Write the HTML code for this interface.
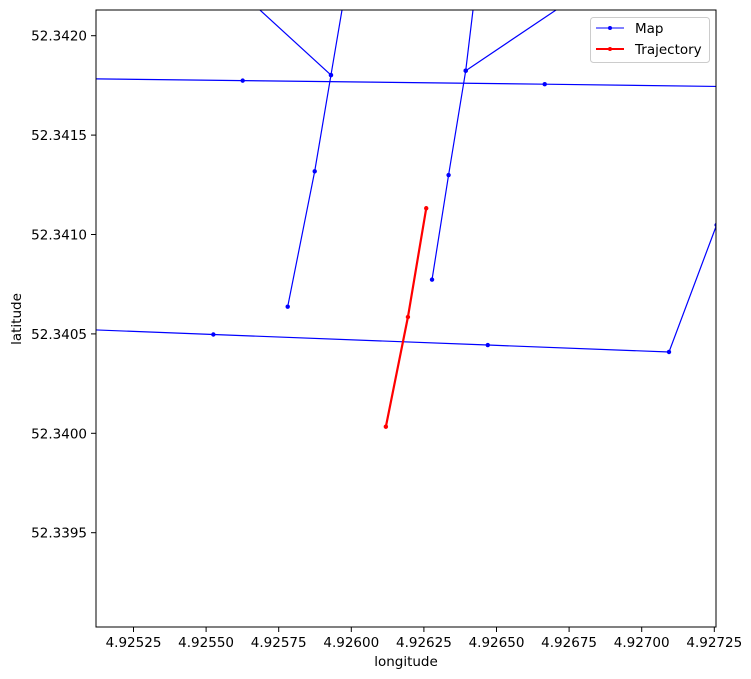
<!DOCTYPE html>
<html><head><meta charset="utf-8"><style>
html,body{margin:0;padding:0;background:#fff;}
svg{display:block;font-family:"DejaVu Sans","Liberation Sans",sans-serif;}
</style></head><body>
<svg id="chart" width="751" height="679" viewBox="0 0 751 679" xmlns="http://www.w3.org/2000/svg">
<defs><clipPath id="pc"><rect x="96" y="10" width="620" height="617"/></clipPath></defs>
<rect x="0" y="0" width="751" height="679" fill="#fff"/>
<g id="marks" clip-path="url(#pc)"></g>
<rect x="96" y="10" width="620" height="617" fill="none" stroke="#000" stroke-width="1"/>
<g id="xticks"></g>
<g id="yticks"></g>
<text x="406" y="666" font-size="13.5" text-anchor="middle">longitude</text>
<text x="21" y="319" font-size="13.5" text-anchor="middle" transform="rotate(-90 21 319)">latitude</text>
<g>
<rect x="590.5" y="17.5" width="119" height="45" rx="3" fill="#fff" fill-opacity="0.8" stroke="#ccc"/>
<g>
<line x1="596" y1="28" x2="624" y2="28" stroke="blue" stroke-width="1"/><circle cx="610" cy="28" r="2" fill="blue"/>
<text x="635" y="33" font-size="13.5">Map</text></g>
<g>
<line x1="596" y1="49" x2="624" y2="49" stroke="red" stroke-width="2"/><circle cx="610" cy="49" r="2" fill="red"/>
<text x="635" y="54" font-size="13.5">Trajectory</text></g>
</g>
</svg>
<script>
const xTickValues=[4.92525,4.92550,4.92575,4.92600,4.92625,4.92650,4.92675,4.92700,4.92725];
const xTickLabels=["4.92525","4.92550","4.92575","4.92600","4.92625","4.92650","4.92675","4.92700","4.92725"];
const yTickValues=[52.3395,52.3400,52.3405,52.3410,52.3415,52.3420];
const yTickLabels=["52.3395","52.3400","52.3405","52.3410","52.3415","52.3420"];
const mapRoadTopLon=[4.924997,4.925626,4.926666,4.927407];
const mapRoadTopLat=[52.341785,52.341774,52.341756,52.341742];
const mapRoadBottomLon=[4.924997,4.925525,4.926470,4.927094,4.927258,4.927407];
const mapRoadBottomLat=[52.340527,52.340497,52.340444,52.340409,52.341048,52.341631];
const mapRoadLeftLon=[4.925982,4.925930,4.925874,4.925781];
const mapRoadLeftLat=[52.342250,52.341802,52.341318,52.340637];
const mapRoadLeftBranchLon=[4.925595,4.925930];
const mapRoadLeftBranchLat=[52.342250,52.341802];
const mapRoadRightLon=[4.926429,4.926394,4.926335,4.926278];
const mapRoadRightLat=[52.342250,52.341824,52.341299,52.340773];
const mapRoadRightBranchLon=[4.926828,4.926394];
const mapRoadRightBranchLat=[52.342250,52.341824];
const trajectoryLon=[4.926119,4.926195,4.926258];
const trajectoryLat=[52.340033,52.340585,52.341132];

const NS="http://www.w3.org/2000/svg";
const X0=133.5,XPX=72.6/0.00025,Y0=35.7,YPX=99.4/0.0005;
function xs(v){return X0+(v-4.92525)*XPX;}
function ys(v){return Y0-(v-52.3420)*YPX;}
const marks=document.getElementById('marks');
function series(lons,lats,color,w,name){
  const g=document.createElementNS(NS,'g');
  
  
  const pl=document.createElementNS(NS,'polyline');
  pl.setAttribute('points',lons.map((v,i)=>xs(v).toFixed(2)+','+ys(lats[i]).toFixed(2)).join(' '));
  pl.setAttribute('fill','none');pl.setAttribute('stroke',color);pl.setAttribute('stroke-width',w);
  
  
  g.appendChild(pl);
  lons.forEach((v,i)=>{
    const c=document.createElementNS(NS,'circle');
    c.setAttribute('cx',xs(v));c.setAttribute('cy',ys(lats[i]));c.setAttribute('r',2.2);c.setAttribute('fill',color);
    
    
    g.appendChild(c);
  });
  marks.appendChild(g);
}
series(mapRoadTopLon,mapRoadTopLat,'blue',1.2,'map-road-top');
series(mapRoadBottomLon,mapRoadBottomLat,'blue',1.2,'map-road-bottom');
series(mapRoadLeftLon,mapRoadLeftLat,'blue',1.2,'map-road-left');
series(mapRoadLeftBranchLon,mapRoadLeftBranchLat,'blue',1.2,'map-road-left-branch');
series(mapRoadRightLon,mapRoadRightLat,'blue',1.2,'map-road-right');
series(mapRoadRightBranchLon,mapRoadRightBranchLat,'blue',1.2,'map-road-right-branch');
series(trajectoryLon,trajectoryLat,'red',2.2,'trajectory');

const xg=document.getElementById('xticks');
xTickValues.forEach((v,i)=>{
  const x=xs(v);
  const l=document.createElementNS(NS,'line');
  l.setAttribute('x1',x);l.setAttribute('x2',x);l.setAttribute('y1',627);l.setAttribute('y2',632);l.setAttribute('stroke','#000');
  
  
  xg.appendChild(l);
  const t=document.createElementNS(NS,'text');
  t.setAttribute('x',x);t.setAttribute('y',647);t.setAttribute('font-size','13.5');t.setAttribute('text-anchor','middle');
  t.textContent=xTickLabels[i];
  
  
  xg.appendChild(t);
});
const yg=document.getElementById('yticks');
yTickValues.forEach((v,i)=>{
  const y=ys(v);
  const l=document.createElementNS(NS,'line');
  l.setAttribute('x1',91);l.setAttribute('x2',96);l.setAttribute('y1',y);l.setAttribute('y2',y);l.setAttribute('stroke','#000');
  
  
  yg.appendChild(l);
  const t=document.createElementNS(NS,'text');
  t.setAttribute('x',87);t.setAttribute('y',y+5);t.setAttribute('font-size','13.5');t.setAttribute('text-anchor','end');
  t.textContent=yTickLabels[i];
  
  
  yg.appendChild(t);
});
</script>
</body></html>
